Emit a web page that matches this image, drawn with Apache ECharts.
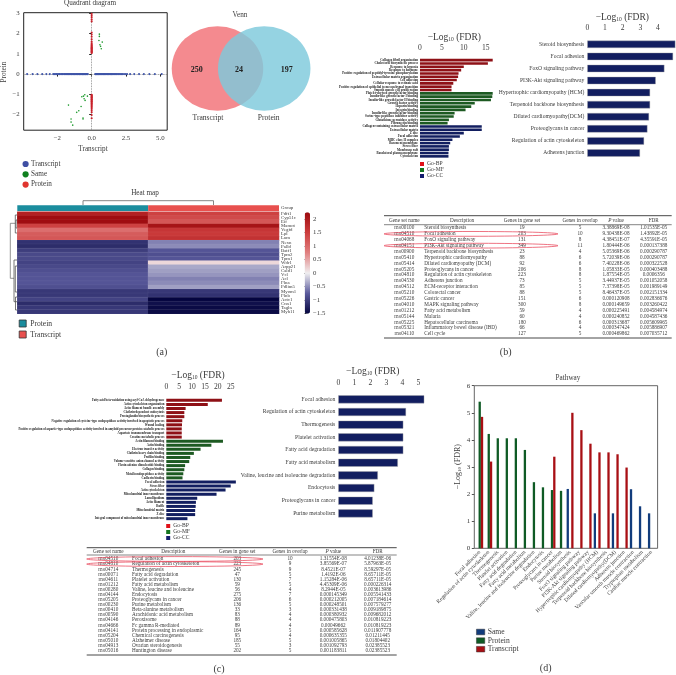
<!DOCTYPE html>
<html>
<head>
<meta charset="utf-8">
<style>html,body{margin:0;padding:0;background:#fff}#main{width:676px;height:675px}</style>
<script src="https://cdn.jsdelivr.net/npm/echarts@6/dist/echarts.min.js"></script>
</head>
<body>
<div id="main"></div>
<script>
// quadrant diagram
var transcriptX = [-4.7,-4.3,-3.95,-3.6,-3.3,-3.05,-2.8,-2.72,-2.61,-2.55,-2.46,-2.38,-2.33,-2.24,-2.17,-2.11,-2.02,-1.97,-1.9,-1.83,-1.78,-1.72,-1.66,-1.6,-1.55,-1.49,-1.44,-1.37,-1.33,-1.27,-1.22,-1.16,-1.1,-1.06,-1.01,-0.95,-0.9,-0.86,-0.81,-0.76,-0.7,-0.66,-0.62,-0.57,-0.52,-0.47,-0.43,-0.38,-0.33,-0.28,
    0.26,0.3,0.35,0.39,0.44,0.49,0.53,0.58,0.62,0.68,0.72,0.77,0.83,0.88,0.93,0.97,1.03,1.08,1.14,1.19,1.24,1.3,1.36,1.42,1.47,1.53,1.6,1.66,1.72,1.79,1.85,1.93,2,2.08,2.17,2.26,2.36,2.48,2.58,2.8,3.1,3.45,3.8,4.2,4.6,5.1];
var proteinY = [2.98,2.9,2.81,2.7,2.6,2.05,1.95,1.84,1.72,1.6,1.52,1.46,1.42,1.38,1.34,1.31,1.28,1.25,1.22,1.19,1.16,1.13,1.1,1.07,1.04,
    -1.02,-1.05,-1.08,-1.11,-1.14,-1.17,-1.2,-1.24,-1.27,-1.3,-1.34,-1.37,-1.41,-1.45,-1.49,-1.54,-1.59,-1.64,-1.7,-1.78,-1.88,-2.02,-2.18];
var samePoints = [[0.56,1.97],[0.56,1.86],[0.53,1.66],[0.77,1.58],[0.6,1.45],[0.65,1.37],[0.7,1.25],
    [-1.69,-1.53],[-1.5,-2.22],[-1.5,-2.37],[-1.38,-2.52],[-1.09,-1.89],[-0.94,-1.81],[-0.77,-1.6],[-0.63,-2.17],[-0.63,-2.22],
    [-0.72,-1.12],[-0.6,-1.09],[-0.5,-1.02],[-0.31,-1.09],[-0.55,-1.22],[-0.48,-1.3]];
var quadXTicks = [-2.5,0,2.5,5];
var quadXLabels = ['−2','0.0','2.5','5.0'];
var quadYTicks = [-2,-1,0,1,2,3];

// venn
var vennNames = ['Transcript','Protein'];
var vennCounts = [250,24,197];

// heat map
var heatGenes = ['Fdft1','Cyp51c','Eif','Mamot','Vegfd','Lpl','Lum','Nexn','Palld','Batf1','Tpm2','Tpm1','Wdr1','Arpp21','Cald1','Vcl','Acl','Flna','Pdlim5','Myom1','Flnb','Actc1','Cnn1','Tagln','Myh11'];
var heatProtein = [1.9,2.2,2.2,1.45,0.95,1.15,1.2,-1.1,-1.15,-1,-0.9,-0.9,-0.95,-0.9,-0.85,-0.8,-0.8,-0.8,-0.85,-1.05,-1.05,-0.95,-1.15,-1.05,-1.05];
var heatTranscript = [1.45,1.35,1.2,2.1,1.6,1.55,1.65,-0.55,-0.5,-0.8,-0.85,-0.8,0.15,-0.35,-0.4,-0.45,-0.55,-0.5,-0.4,-1.05,-1.1,-1.5,-1.4,-1.45,-1.45];

// GO terms, panel b
var goB_BP = ['Collagen fibril organization','Cholesterol biosynthetic process','Response to hypoxia','Response to hormone','Positive regulation of peptidyl-tyrosine phosphorylation','Extracellular matrix organization','Cell adhesion','Cellular response to retinoic acid','Positive regulation of epithelial to mesenchymal transition','Smooth muscle cell proliferation'];
var goB_MF = ['Platelet-derived growth factor binding','Insulin-like growth factor I binding','Insulin-like growth factor II binding','Growth factor activity','Heparin binding','Integrin binding','Insulin-like growth factor binding','Serine-type peptidase inhibitor activity','Glutathione peroxidase activity','Fibronectin binding'];
var goB_CC = ['Collagen-containing extracellular matrix','Extracellular matrix','Z disc','Focal adhesion','MHC class II complex','Basement membrane','Stress fiber','Membrane raft','Basolateral plasma membrane','Cytoskeleton'];
var goB_BPValues = [16.6,15.5,10,9.4,8.8,8.7,8.4,7.6,7.2,7.2];
var goB_MFValues = [16.6,16.5,16.2,12.5,11.7,10.4,7.9,7.7,6.6,6.3];
var goB_CCValues = [14.1,14.1,10,9.1,7.4,6.9,6.6,6.6,6.5,6.5];

// GO terms, panel c
var goC_BP = ['Fatty acid beta-oxidation using acyl-CoA dehydrogenase','Actin cytoskeleton organization','Actin filament bundle assembly','Clathrin-dependent endocytosis','Prostaglandin biosynthetic process','Negative regulation of cysteine-type endopeptidase activity involved in apoptotic process','Wound healing','Positive regulation of aspartic-type endopeptidase activity involved in amyloid precursor protein catabolic process','Aspartate transmembrane transport','Creatine metabolic process'];
var goC_MF = ['Actin filament binding','Actin binding','Electron transfer activity','Clathrin heavy chain binding','Profilin binding','Volume-sensitive anion channel activity','Flavin adenine dinucleotide binding','Collagen binding','Metalloendopeptidase activity','Cadherin binding'];
var goC_CC = ['Focal adhesion','Stress fiber','Actin cytoskeleton','Mitochondrial inner membrane','Lamellipodium','Actin filament','Ruffle','Mitochondrial matrix','Z disc','Integral component of mitochondrial inner membrane'];
var goC_BPValues = [21.6,16.1,7.5,7,7,6.2,6.1,6,6,6];
var goC_MFValues = [22,17.5,13.3,10.7,9.3,8.9,7.3,7,6.6,6.3];
var goC_CCValues = [27,25,23,19.5,12,11.5,11.4,11.2,11.2,8.2];

// KEGG bars
var keggB = ['Steroid biosynthesis','Focal adhesion','FoxO signaling pathway','PI3K-Akt signaling pathway','Hypertrophic cardiomyopathy (HCM)','Terpenoid backbone biosynthesis','Dilated cardiomyopathy(DCM)','Proteoglycans in cancer','Regulation of actin cytoskeleton','Adherens junction'];
var keggBValues = [4.98,4.85,4.36,3.87,3.55,3.55,3.49,3.4,3.21,2.98];
var keggC = ['Focal adhesion','Regulation of actin cytoskeleton','Thermogenesis','Platelet activation','Fatty acid degradation','Fatty acid metabolism','Valine, leucine and isoleucine degradation','Endocytosis','Proteoglycans in cancer','Purine metabolism'];
var keggCValues = [5.37,4.23,4.06,4.06,4.06,3.72,2.47,2.25,2.15,2.15];

// pathway, panel d
var pathways = ['Focal adhesion','Regulation of actin cytoskeleton','Thermogenesis','Platelet activation','Fatty acid degradation','Fatty acid metabolism','Valine, leucine and isoleucine degradation','Endocytosis','Proteoglycans in cancer','Purine metabolism','Steroid biosynthesis','FoxO signaling pathway','PI3K-Akt signaling pathway','Hypertrophic cardiomyopathy (HCM)','Terpenoid backbone biosynthesis','Dilated cardiomyopathy(DCM)','Adherens junction','Vascular smooth muscle contraction','Tryptophan metabolism','Cardiac muscle contraction'];
var pathSame = [null,null,null,null,null,null,null,null,null,null,2.19,null,null,1.29,null,1.29,null,2.18,1.55,1.29];
var pathProtein = [5.41,4.22,4.06,4.06,4.06,3.63,2.44,2.25,2.15,2.12,null,null,null,null,null,null,null,null,null,null];
var pathTranscript = [4.85,3.2,null,null,null,null,null,null,3.38,null,5,4.36,3.86,3.54,3.54,3.47,2.98,null,null,null];

// tables
var tableHead = ['Gene set name','Description','Genes in gene set','Genes in overlap','P value','FDR'];
var tableB = [
    ['rno00100','Steroid biosynthesis','19','5','3.38869E-08','1.01535E-05'],
    ['rno04510','Focal adhesion','203','10','9.30438E-08','1.43892E-05'],
    ['rno04068','FoxO signaling pathway','131','8','4.38451E-07','4.35591E-05'],
    ['rno04151','PI3K-Akt signaling pathway','349','11','1.80444E-06','0.000137388'],
    ['rno00900','Terpenoid backbone biosynthesis','23','4','5.05369E-06','0.000290787'],
    ['rno05410','Hypertrophic cardiomyopathy','88','6','5.72039E-06','0.000290787'],
    ['rno05414','Dilated cardiomyopathy (DCM)','92','6','7.40228E-06','0.000322528'],
    ['rno05205','Proteoglycans in cancer','206','8','1.05833E-05','0.000403488'],
    ['rno04810','Regulation of actin cytoskeleton','223','8','1.87554E-05','0.0006356'],
    ['rno04530','Adherens junction','73','5','3.44937E-05','0.001052058'],
    ['rno04512','ECM-receptor interaction','85','5','7.37398E-05','0.001989149'],
    ['rno05210','Colorectal cancer','88','5','8.46437E-05','0.002151334'],
    ['rno05226','Gastric cancer','151','6','0.000120908','0.002836676'],
    ['rno04010','MAPK signaling pathway','300','8','0.000149659','0.003260422'],
    ['rno01212','Fatty acid metabolism','59','4','0.000225491','0.004584974'],
    ['rno05144','Malaria','60','4','0.000240852','0.004587436'],
    ['rno05225','Hepatocellular carcinoma','180','6','0.000313687','0.005609965'],
    ['rno05321','Inflammatory bowel disease (IBD)','66','4','0.000347424','0.005886907'],
    ['rno04110','Cell cycle','127','5','0.000469862','0.007035712']
];
var tableC = [
    ['rno04510','Focal adhesion','203','10','1.31554E-08','4.01238E-06'],
    ['rno04810','Regulation of actin cytoskeleton','223','9','3.85569E-07','5.87963E-05'],
    ['rno04714','Thermogenesis','245','9','8.4521E-07','8.59297E-05'],
    ['rno00071','Fatty acid degradation','47','5','1.4192E-06','8.65711E-05'],
    ['rno04611','Platelet activation','130','7','1.15284E-06','8.65711E-05'],
    ['rno01212','Fatty acid metabolism','59','5','4.45309E-06','0.000226314'],
    ['rno00280','Valine, leucine and isoleucine','56','4','8.2944E-05','0.003613986'],
    ['rno04144','Endocytosis','275','7','0.000145349','0.005541433'],
    ['rno05205','Proteoglycans in cancer','206','6','0.000212005','0.007184614'],
    ['rno00230','Purine metabolism','136','5','0.000248501','0.007579277'],
    ['rno00410','Beta-alanine metabolism','33','3','0.000331438','0.009189875'],
    ['rno00590','Arachidonic acid metabolism','83','4','0.000380932','0.009682012'],
    ['rno04146','Peroxisome','88','4','0.000475803','0.010819223'],
    ['rno04666','Fc gamma R-mediated','89','4','0.00049662','0.010819223'],
    ['rno04141','Protein processing in endoplasmic','164','5','0.000585628','0.011907778'],
    ['rno05204','Chemical carcinogenesis','95','4','0.000635355','0.01211445'],
    ['rno05010','Alzheimer disease','185','5','0.001005865','0.01804402'],
    ['rno04913','Ovarian steroidogenesis','55','3','0.001092793','0.02385523'],
    ['rno05016','Huntington disease','202','5','0.001183811','0.02385523']
];

var FONT = '"Liberation Serif", serif';
var TXT = '#3a3a3a';
var RED = '#8e1016', GREEN = '#1d5a22', NAVY = '#121e60';

var myChart = echarts.init(document.getElementById('main'));
var grid = [], xAxis = [], yAxis = [], series = [], legend = [], graphic = [];

function text(x, y, str, size, opt) {
    opt = opt || {};
    graphic.push({
        type: 'text', x: x, y: y, z: 100, rotation: opt.rotation || 0, silent: true,
        style: {
            text: str, fill: opt.color || TXT, font: (opt.weight || 'normal') + ' ' + size + 'px ' + FONT,
            align: opt.align || 'center', verticalAlign: 'middle', rich: opt.rich
        }
    });
}
function logTitle(x, y) {
    text(x, y, '{a|−Log}{s|10}{a| (FDR)}', 9.5, {
        rich: {
            a: { fontFamily: FONT, fontSize: 9.5, color: TXT },
            s: { fontFamily: FONT, fontSize: 5.5, color: TXT, verticalAlign: 'bottom', padding: [4, 0, 0, 0] }
        }
    });
}
function line(points, color, width) {
    graphic.push({
        type: 'polyline', silent: true, z: 100, shape: { points: points },
        style: { stroke: color || '#666', lineWidth: width || 0.8, fill: null }
    });
}

// ---- quadrant diagram
grid.push({ left: 23.7, top: 12.7, width: 143.5, height: 117.5, show: true, borderColor: '#222', borderWidth: 1 });
xAxis.push({
    gridIndex: 0, type: 'value', min: -4.95, max: 5.5, splitLine: { show: false }, axisLine: { show: false },
    axisTick: { length: 2.5, lineStyle: { color: '#222' }, customValues: quadXTicks },
    axisLabel: { customValues: quadXTicks, margin: 5, fontSize: 6.8, fontFamily: FONT, color: TXT,
        formatter: function (v) { return quadXLabels[quadXTicks.indexOf(v)]; } }
});
yAxis.push({
    gridIndex: 0, type: 'value', min: -2.77, max: 3.03, splitLine: { show: false }, axisLine: { show: false },
    axisTick: { length: 2.5, lineStyle: { color: '#222' }, customValues: quadYTicks },
    axisLabel: { customValues: quadYTicks, margin: 4, fontSize: 6.8, fontFamily: FONT, color: TXT,
        formatter: function (v) { return String(v).replace('-', '−'); } }
});
series.push({
    name: 'Transcript', type: 'scatter', xAxisIndex: 0, yAxisIndex: 0, symbolSize: 2.1, silent: true, z: 6,
    itemStyle: { color: '#3f55a8', opacity: 1 },
    data: transcriptX.map(function (x) { return [x, 0]; }),
    markLine: { silent: true, symbol: 'none', z: 1, label: { show: false }, lineStyle: { color: '#777', type: 'dotted', width: 0.8 },
        data: [{ yAxis: 0 }, { xAxis: 0 }] }
});
series.push({
    name: 'Same', type: 'scatter', xAxisIndex: 0, yAxisIndex: 0, symbolSize: 1.6, silent: true, z: 6,
    itemStyle: { color: '#1c9a2c', opacity: 1 }, data: samePoints
});
series.push({
    name: 'Protein', type: 'scatter', xAxisIndex: 0, yAxisIndex: 0, symbolSize: 2.1, silent: true, z: 6,
    itemStyle: { color: '#c8202a', opacity: 1 },
    data: proteinY.map(function (y) { return [0, y]; })
});
text(90, 3, 'Quadrant diagram', 7.2);
text(93, 149.5, 'Transcript', 7.2);
text(4.5, 72, 'Protein', 7.2, { rotation: Math.PI / 2 });
legend.push({
    left: 22.5, top: 160.5, orient: 'vertical', padding: 0, itemGap: 3.3, itemWidth: 7, itemHeight: 6.2, icon: 'circle',
    selectedMode: false, textStyle: { fontSize: 7.2, fontFamily: FONT, color: TXT, padding: [0, 0, 0, -3] },
    data: [
        { name: 'Transcript', itemStyle: { color: '#3f4fa3' } },
        { name: 'Same', itemStyle: { color: '#10801f' } },
        { name: 'Protein', itemStyle: { color: '#e0352f' } }
    ]
});

// ---- venn
grid.push({ left: 171.7, top: 26, width: 138.3, height: 85 });
xAxis.push({ gridIndex: 1, type: 'value', min: 0, max: 138.3, show: false });
yAxis.push({ gridIndex: 1, type: 'value', min: 0, max: 85, show: false });
series.push({
    name: vennNames[0], type: 'scatter', xAxisIndex: 1, yAxisIndex: 1, silent: true, symbolSize: [91.5, 84.5],
    itemStyle: { color: '#f48a8f', opacity: 1 }, data: [[45.8, 42.5]]
});
series.push({
    name: vennNames[1], type: 'scatter', xAxisIndex: 1, yAxisIndex: 1, silent: true, symbolSize: [92.5, 84.5],
    itemStyle: { color: 'rgba(126,201,220,0.82)', opacity: 1 }, data: [[92.5, 42.5]]
});
text(240, 15.3, 'Venn', 7.2);
text(196.7, 70, String(vennCounts[0]), 8, { weight: 'bold', color: '#222' });
text(239, 70, String(vennCounts[1]), 8, { weight: 'bold', color: '#222' });
text(286.7, 70, String(vennCounts[2]), 8, { weight: 'bold', color: '#222' });
text(208, 118, vennNames[0], 7.6);
text(268.7, 118, vennNames[1], 7.6);

// ---- heat map: group strip
grid.push({ left: 17.3, top: 205.3, width: 261.7, height: 5.7 });
xAxis.push({ gridIndex: 2, type: 'value', min: 0, max: 2, show: false });
yAxis.push({
    gridIndex: 2, type: 'category', data: ['Group'], position: 'right',
    axisLine: { show: false }, axisTick: { show: false },
    axisLabel: { margin: 2, fontSize: 4.8, fontFamily: FONT, color: TXT }
});
series.push({
    name: 'Protein', type: 'bar', stack: 'group', xAxisIndex: 2, yAxisIndex: 2, barWidth: '100%', silent: true,
    itemStyle: { color: '#1b8d9e' }, data: [1]
});
series.push({
    name: 'Transcript', type: 'bar', stack: 'group', xAxisIndex: 2, yAxisIndex: 2, barWidth: '100%', silent: true,
    itemStyle: { color: '#e8504e' }, data: [1]
});

// ---- heat map: cells
grid.push({ left: 17.3, top: 211.7, width: 261.7, height: 102 });
xAxis.push({ gridIndex: 3, type: 'category', data: ['Protein', 'Transcript'], show: false });
yAxis.push({
    gridIndex: 3, type: 'category', data: heatGenes, inverse: true, position: 'right',
    axisLine: { show: false }, axisTick: { show: false },
    axisLabel: { interval: 0, margin: 2, fontSize: 4.8, fontFamily: FONT, color: TXT }
});
var heatData = [];
heatGenes.forEach(function (g, i) {
    heatData.push([0, i, heatProtein[i]]);
    heatData.push([1, i, heatTranscript[i]]);
});
var heatSeriesIndex = series.length;
series.push({
    name: 'Heat', type: 'heatmap', xAxisIndex: 3, yAxisIndex: 3, silent: true, data: heatData,
    itemStyle: { borderColor: 'rgba(255,255,255,0.12)', borderWidth: 0.4 }
});
// colour bar ticks, the bar itself is the visualMap
grid.push({ left: 304.7, top: 212.3, width: 5.3, height: 101.4 });
xAxis.push({ gridIndex: 4, type: 'value', show: false, min: 0, max: 1 });
yAxis.push({
    gridIndex: 4, type: 'value', position: 'right', min: -1.5, max: 2.25, interval: 0.5, splitLine: { show: false },
    axisLine: { show: false }, axisTick: { length: 2, lineStyle: { color: '#222' } },
    axisLabel: { margin: 3, fontSize: 6.8, fontFamily: FONT, color: TXT,
        formatter: function (v) { return String(v).replace('-', '−'); } }
});
// dendrograms
line([[83, 205], [83, 200.7], [213.5, 200.7], [213.5, 205]], '#666');
line([[15.3, 223.3], [10.3, 223.3], [10.3, 278.3], [14, 278.3]], '#777');
line([[17, 215], [15.3, 215], [15.3, 233], [17, 233]], '#555');
line([[17, 260], [14, 260], [14, 301.7], [17, 301.7]], '#555');
line([[17, 220], [16, 220], [16, 228], [17, 228]], '#555');
line([[17, 266], [15.3, 266], [15.3, 292], [17, 292]], '#555');
line([[17, 297], [15.5, 297], [15.5, 310], [17, 310]], '#555');
legend.push({
    left: 18.8, top: 319.5, orient: 'vertical', padding: 0, itemGap: 3, itemWidth: 7, itemHeight: 7, icon: 'rect',
    selectedMode: false, textStyle: { fontSize: 7.6, fontFamily: FONT, color: TXT, padding: [0, 0, 0, -1] },
    data: [
        { name: 'Protein', itemStyle: { color: '#1b8d9e', borderColor: '#333', borderWidth: 0.8 } },
        { name: 'Transcript', itemStyle: { color: '#e8504e', borderColor: '#333', borderWidth: 0.8 } }
    ]
});
text(145, 193, 'Heat map', 7.2);
text(161.7, 352.7, '(a)', 10);

// ---- GO and KEGG horizontal bars
function goPanel(opt) {
    var g = grid.length;
    var names = opt.bp.concat(opt.mf, opt.cc);
    grid.push({ left: opt.left, top: opt.top, width: opt.width, height: opt.height });
    xAxis.push({
        gridIndex: g, type: 'value', position: 'top', min: 0, max: opt.max, interval: 5, offset: opt.offset, splitLine: { show: false },
        axisLine: { lineStyle: { color: '#222', width: 0.8 } }, axisTick: { length: 2, lineStyle: { color: '#222', width: 0.8 } },
        axisLabel: { margin: 3, fontSize: 7.6, fontFamily: FONT, color: TXT }
    });
    yAxis.push({
        gridIndex: g, type: 'category', data: names, inverse: true,
        axisLine: { show: false }, axisTick: { show: false },
        axisLabel: { interval: 0, margin: 2, fontSize: opt.labelSize, fontWeight: 'bold', fontFamily: FONT, color: '#222' }
    });
    var blank10 = [null, null, null, null, null, null, null, null, null, null];
    [['Go-BP', opt.bpv.concat(blank10, blank10), RED],
     ['Go-MF', blank10.concat(opt.mfv, blank10), GREEN],
     ['Go-CC', blank10.concat(blank10, opt.ccv), NAVY]].forEach(function (s) {
        series.push({
            name: s[0], type: 'bar', stack: 'go' + g, xAxisIndex: g, yAxisIndex: g, clip: false, silent: true,
            barWidth: opt.barWidth, data: s[1],
            itemStyle: { color: s[2] }
        });
    });
    legend.push({
        left: opt.legendLeft, top: opt.legendTop, orient: 'vertical', padding: 0, itemGap: 0, itemWidth: 4, itemHeight: 4, icon: 'rect',
        selectedMode: false, textStyle: { fontSize: 5.6, lineHeight: 6, fontFamily: FONT, color: TXT, padding: [0, 0, 0, -2] },
        data: [
            { name: 'Go-BP', itemStyle: { color: '#e01018' } },
            { name: 'Go-MF', itemStyle: { color: '#15751f' } },
            { name: 'Go-CC', itemStyle: { color: '#141c6e' } }
        ]
    });
}
function keggPanel(opt) {
    var g = grid.length;
    grid.push({ left: opt.left, top: opt.top, width: opt.width, height: opt.height });
    xAxis.push({
        gridIndex: g, type: 'value', position: 'top', min: 0, max: opt.max, interval: 1, offset: opt.offset, splitLine: { show: false },
        axisLine: { lineStyle: { color: '#222', width: 0.8 } }, axisTick: { length: 2, lineStyle: { color: '#222', width: 0.8 } },
        axisLabel: { margin: 3.5, fontSize: 7.6, fontFamily: FONT, color: TXT }
    });
    yAxis.push({
        gridIndex: g, type: 'category', data: opt.names, inverse: true,
        axisLine: { show: false }, axisTick: { show: false },
        axisLabel: { interval: 0, margin: 3, fontSize: 5.6, fontFamily: FONT, color: TXT }
    });
    series.push({
        name: 'Bars' + g, type: 'bar', xAxisIndex: g, yAxisIndex: g, clip: false, silent: true, barWidth: opt.barWidth,
        itemStyle: { color: NAVY, borderColor: '#aaa', borderWidth: 0.4 }, data: opt.values
    });
}
goPanel({
    left: 420, top: 58.5, width: 65.7, height: 99.5, max: 15, offset: 3.5, labelSize: 3.2, barWidth: 2.6,
    bp: goB_BP, mf: goB_MF, cc: goB_CC, bpv: goB_BPValues, mfv: goB_MFValues, ccv: goB_CCValues,
    legendLeft: 420, legendTop: 161
});
logTitle(454.3, 37.7);
keggPanel({
    left: 587.3, top: 38.3, width: 70.7, height: 120.7, max: 4, offset: 2.6, barWidth: 7.4,
    names: keggB, values: keggBValues
});
logTitle(622.3, 17.7);

goPanel({
    left: 166.3, top: 398.3, width: 64.4, height: 122.4, max: 25, offset: 4.3, labelSize: 3, barWidth: 3,
    bp: goC_BP, mf: goC_MF, cc: goC_CC, bpv: goC_BPValues, mfv: goC_MFValues, ccv: goC_CCValues,
    legendLeft: 166.2, legendTop: 523
});
logTitle(198, 375.5);
keggPanel({
    left: 338.3, top: 393, width: 80, height: 126.7, max: 5, offset: 2.3, barWidth: 8,
    names: keggC, values: keggCValues
});
logTitle(372.7, 371.7);

// ---- tables
function table(rows, opt) {
    line([[opt.x0, opt.top], [opt.x1, opt.top]], '#333', 0.9);
    line([[opt.x0, opt.sub], [opt.x1, opt.sub]], '#333', 0.6);
    tableHead.forEach(function (h, c) {
        var str = h === 'P value' ? '{i|P} value' : h;
        text(opt.headX[c], opt.headY, str, 5.2, {
            rich: { i: { fontFamily: FONT, fontStyle: 'italic', fontSize: 5.2, color: TXT } }
        });
    });
    rows.forEach(function (row, r) {
        var y = opt.rowY + r * opt.rowH;
        row.forEach(function (cell, c) {
            text(opt.cols[c], y, cell, 5.2, { align: c === 1 ? 'left' : 'center' });
        });
    });
    line([[opt.x0, opt.bottom], [opt.x1, opt.bottom]], '#333', 0.9);
    opt.circled.forEach(function (r) {
        graphic.push({
            type: 'ellipse', silent: true, z: 101,
            shape: { cx: (opt.x0 + opt.circleEnd) / 2, cy: opt.rowY + r * opt.rowH, rx: (opt.circleEnd - opt.x0) / 2, ry: 2.4 },
            style: { fill: 'none', stroke: '#e8485c', lineWidth: 0.9, opacity: 0.85 }
        });
    });
}
table(tableB, {
    x0: 384, x1: 671.7, top: 215.7, sub: 224.7, headY: 220.3, rowY: 228, rowH: 5.89, bottom: 338,
    cols: [404.3, 424.3, 522, 580, 616, 653.7], headX: [404.3, 462, 522, 580, 616, 653.7], circled: [1, 3], circleEnd: 558
});
text(505.7, 352.7, '(b)', 10);
table(tableC, {
    x0: 86.7, x1: 396.7, top: 547.7, sub: 555, headY: 551.3, rowY: 559, rowH: 5.09, bottom: 655,
    cols: [108.3, 132, 237.3, 290, 333.3, 377.7], headX: [108.3, 173.3, 237.3, 290, 333.3, 377.7], circled: [0, 1], circleEnd: 263
});
text(219, 669, '(c)', 10);

// ---- pathway
var f = grid.length;
grid.push({ left: 474.3, top: 385.7, width: 183.3, height: 162.6, show: true, borderColor: '#555', borderWidth: 0.9 });
xAxis.push({ gridIndex: f, type: 'value', show: false, min: 0, max: 1 });
yAxis.push({
    gridIndex: f, type: 'value', min: 0, max: 6, interval: 1, splitLine: { show: false }, axisLine: { show: false },
    axisTick: { length: 2.5, lineStyle: { color: '#555' } },
    axisLabel: { margin: 4, fontSize: 7, fontFamily: FONT, color: TXT }
});
var p = grid.length;
grid.push({ left: 475.2, top: 385.7, width: 180.7, height: 162.6 });
xAxis.push({
    gridIndex: p, type: 'category', data: pathways, axisLine: { show: false },
    axisTick: { show: false },
    axisLabel: { interval: 0, rotate: 45, margin: 3, fontSize: 5.6, fontFamily: FONT, color: TXT }
});
yAxis.push({ gridIndex: p, type: 'value', min: 0, max: 6, show: false });
[['Same', pathSame, '#123c7c'], ['Protein', pathProtein, '#0f5b25'], ['Transcript', pathTranscript, '#a80f14']].forEach(function (s) {
    series.push({
        name: s[0], type: 'bar', xAxisIndex: p, yAxisIndex: p, silent: true, barWidth: 2.3, barGap: '0%',
        itemStyle: { color: s[2] }, data: s[1]
    });
});
text(568, 378.5, 'Pathway', 7.2);
text(458, 466.7, '{a|−Log}{s|10}{a| (FDR)}', 8, {
    rotation: Math.PI / 2,
    rich: {
        a: { fontFamily: FONT, fontSize: 8, color: TXT },
        s: { fontFamily: FONT, fontSize: 5, color: TXT, verticalAlign: 'bottom', padding: [3, 0, 0, 0] }
    }
});
legend.push({
    left: 476.2, top: 628, orient: 'vertical', padding: 0, itemGap: 0.6, itemWidth: 8.3, itemHeight: 5.6, icon: 'rect',
    selectedMode: false, textStyle: { fontSize: 7.6, fontFamily: FONT, color: TXT, padding: [0, 0, 0, -2] },
    data: [
        { name: 'Same', itemStyle: { color: '#123c7c', borderColor: '#333', borderWidth: 0.5 } },
        { name: 'Protein', itemStyle: { color: '#0f5b25', borderColor: '#333', borderWidth: 0.5 } },
        { name: 'Transcript', itemStyle: { color: '#a80f14', borderColor: '#333', borderWidth: 0.5 } }
    ]
});
text(545.7, 668.7, '(d)', 10);

option = {
    backgroundColor: '#fff',
    animation: false,
    textStyle: { fontFamily: FONT },
    tooltip: { show: false },
    grid: grid,
    xAxis: xAxis,
    yAxis: yAxis,
    legend: legend,
    visualMap: [{
        type: 'continuous', seriesIndex: heatSeriesIndex, min: -1.5, max: 2.25, calculable: false, realtime: false,
        left: 304.7, top: 212.3, itemWidth: 5.3, itemHeight: 101.4, text: ['', ''], padding: 0, textGap: 0,
        showLabel: false, borderColor: '#222',
        inRange: { color: ['#05053f', '#5a5a9c', '#f0eef0', '#e08080', '#cc3c3c', '#9c0a0e'] }
    }],
    series: series,
    graphic: graphic
};
myChart.setOption(option);
</script>
</body>
</html>
